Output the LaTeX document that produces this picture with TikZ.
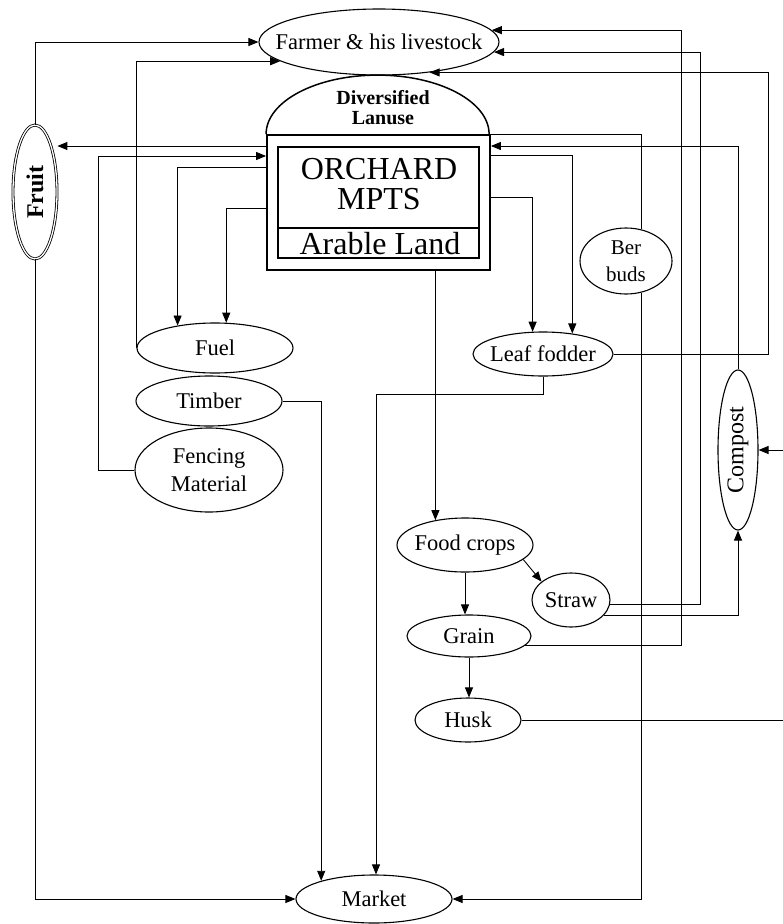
\documentclass[tikz,border=0pt]{standalone}
\usepackage{fontspec}
\setmainfont{Liberation Serif}
\usetikzlibrary{arrows.meta,shapes.geometric}
\begin{document}
\begin{tikzpicture}[x=1pt,y=-1pt,
  line width=0.9pt,
  oval/.style={ellipse,draw,line width=1.1pt,inner sep=0pt,align=center,font=\fontsize{22.5}{28}\selectfont},
  arr/.style={-{Triangle[length=10pt,width=8pt]}}]
\useasboundingbox (0,0) rectangle (783,924);

% ---- nodes ----
\node[oval,minimum width=240pt,minimum height=66pt] (farmer) at (379,42) {\makebox[0pt]{Farmer \& his livestock}};
\node[oval,double,double distance=1.3pt,line width=0.8pt,minimum width=44pt,minimum height=134pt] (fruit) at (35,192) {\rotatebox{90}{\fontsize{24}{24}\selectfont\bfseries Fruit}};
\node[draw,line width=1.8pt,minimum width=223pt,minimum height=135pt,inner sep=0pt] (outer) at (378.5,202.5) {};
\node[draw,line width=1.4pt,minimum width=201pt,minimum height=111pt,inner sep=0pt] (inner) at (378.5,202.5) {};
\draw[line width=1.4pt] (inner.west |- 0,228) -- (inner.east |- 0,228);
\draw[line width=1.5pt] (outer.north west) arc[start angle=180,end angle=0,x radius=111.5pt,y radius=59pt];
\node[font=\fontsize{20}{20}\selectfont\bfseries,align=center] (dome) at (383,108) {Diversified\\Lanuse};
\node[font=\fontsize{32}{30}\selectfont,align=center] (orch) at (379,184) {ORCHARD\\MPTS};
\node[font=\fontsize{32}{30}\selectfont] (arable) at (380,244) {Arable Land};

\node[oval,minimum width=156pt,minimum height=50pt] (fuel) at (215,348) {Fuel};
\node[oval,minimum width=146pt,minimum height=50pt] (timber) at (209,401) {Timber};
\node[oval,minimum width=148pt,minimum height=84pt] (fencing) at (209,470) {Fencing\\Material};
\node[oval,minimum width=140pt,minimum height=44pt] (leaf) at (543,354) {\makebox[0pt]{Leaf fodder}};
\node[oval,minimum width=92pt,minimum height=66pt,font=\fontsize{21}{27}\selectfont] (berbuds) at (626,261) {Ber\\buds};
\node[oval,minimum width=40pt,minimum height=160pt] (compost) at (738,450) {\rotatebox{90}{\fontsize{24}{24}\selectfont Compost}};
\node[oval,minimum width=136pt,minimum height=54pt] (food) at (465,545) {\makebox[0pt]{Food crops}};
\node[oval,minimum width=78pt,minimum height=54pt] (straw) at (571,600) {Straw};
\node[oval,minimum width=124pt,minimum height=42pt] (grain) at (469,636) {Grain};
\node[oval,minimum width=106pt,minimum height=44pt] (husk) at (468,720) {Husk};
\node[oval,minimum width=156pt,minimum height=48pt] (market) at (374,899) {Market};

% ---- helper coordinates ----
\coordinate (cg) at (681,0);
\coordinate (cs) at (700,0);
\coordinate (cl) at (768,0);
\coordinate (yA) at (0,146);
\coordinate (yB) at (98,156);
\coordinate (yC) at (0,167);
\coordinate (yD) at (0,208);
\coordinate (yE) at (0,155);
\coordinate (yF) at (0,197);
\coordinate (yG) at (376,394);
\coordinate (hk) at (783,720);
\coordinate (ci) at (783,450);

% ---- connectors ----
\draw[arr] (fruit.north) |- (farmer.west);
\draw[arr] (fuel.west) |- (farmer.191);
\draw[arr] (grain.-10) -| (cg |- farmer.6) -- (farmer.6);
\draw[arr] (straw.-7) -| (cs |- farmer.-5) -- (farmer.-5);
\draw[arr] (leaf.east) -| (cl |- farmer.-31) -- (farmer.-31);

\draw[arr] (outer.west |- yA) -- (fruit.east |- yA);
\draw[arr] (fencing.west) -| (yB) -- (outer.west |- yB);
\draw[arr] (outer.west |- yC) -| (fuel.149);
\draw[arr] (outer.west |- yD) -| (fuel.66);

\draw (outer.north east) -| (berbuds.64);
\draw[arr] (compost.north) |- (outer.east |- yA);
\draw[arr] (outer.east |- yE) -| (leaf.35);
\draw[arr] (outer.east |- yF) -| (leaf.115);

\draw[arr] (outer.south -| food.140) -- (food.140);
\draw[arr] (food.-14) -- (straw.148);
\draw[arr] (food.south) -- (food.south |- grain.north);
\draw[arr] (grain.south) -- (grain.south |- husk.north);
\draw[arr] (straw.-25) -| (compost.south);
\draw (husk.east) -- (hk);
\draw[arr] (ci) -- (compost.east);

\draw[arr] (fruit.south) |- (market.west);
\draw[arr] (timber.east) -| (market.161);
\draw[arr] (leaf.south) |- (yG) -- (market.north -| yG);
\draw[arr] (berbuds.-64) |- (market.east);
\end{tikzpicture}
\end{document}
